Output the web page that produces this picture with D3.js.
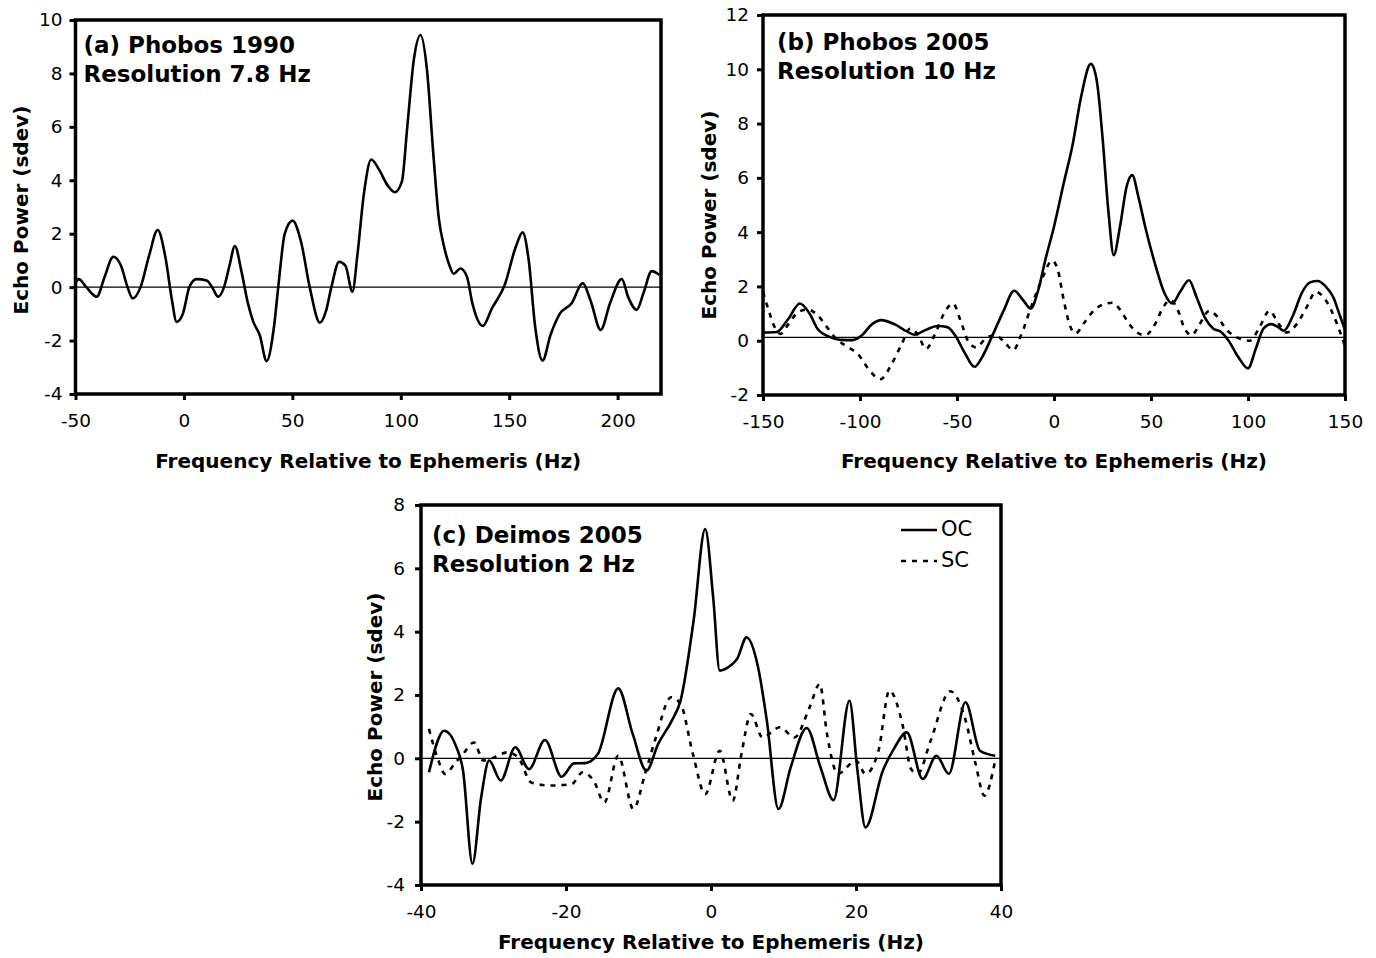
<!DOCTYPE html>
<html>
<head>
<meta charset="utf-8">
<script src="https://cdn.jsdelivr.net/npm/d3@7"></script>
<style>
  html, body { margin: 0; padding: 0; background: #fff; }
  svg { display: block; }
  text { font-family: "DejaVu Sans", Verdana, sans-serif; fill: #000; }
</style>
</head>
<body>
<svg id="chart" width="1376" height="958"></svg>
<script>
// ---------- DATA ----------
const xTicksA = [-50, 0, 50, 100, 150, 200];
const yTicksA = [-4, -2, 0, 2, 4, 6, 8, 10];
const xTicksB = [-150, -100, -50, 0, 50, 100, 150];
const yTicksB = [-2, 0, 2, 4, 6, 8, 10, 12];
const xTicksC = [-40, -20, 0, 20, 40];
const yTicksC = [-4, -2, 0, 2, 4, 6, 8];

// (a) Phobos 1990, OC  [frequency Hz, echo power sdev]
const phobos1990OC = [
  [-50,0.15],[-48.5,0.3],[-45.5,0.05],[-40.2,-0.36],[-36.5,0.4],[-32.6,1.14],[-29,0.8],[-26,0],
  [-23.6,-0.42],[-20,0],[-16,1.2],[-12.1,2.14],[-8.5,1.1],[-5.5,-0.5],[-3.4,-1.3],[-0.5,-1.0],
  [2.5,0],[5.8,0.3],[10.5,0.25],[13,0],[15.8,-0.36],[18.5,0],[21,0.8],[23.5,1.54],[26.5,0.6],
  [29.5,-0.6],[32,-1.3],[35,-1.8],[38.1,-2.77],[41.5,-1.5],[43.5,0],[46.5,2.0],[50.1,2.49],
  [54,1.7],[58,0],[62.7,-1.33],[65.5,-0.9],[68,0],[71.6,0.95],[74.5,0.8],[77.7,-0.17],[80,1.2],
  [83,3.5],[86.4,4.78],[90,4.4],[94,3.8],[97.2,3.55],[100.5,3.95],[103,6.0],[106,8.5],[109.1,9.44],
  [112,8.2],[115,5.0],[117.5,2.6],[120,1.5],[122.5,0.8],[124.4,0.5],[127.5,0.7],[130.5,0.4],
  [133,-0.6],[137.8,-1.45],[142,-0.8],[148,0.1],[153,1.5],[156.2,2.05],[159,1.0],[162,-1.5],
  [165.4,-2.75],[169,-1.8],[173.3,-1.0],[178.8,-0.6],[183.9,0.15],[187.5,-0.5],[192.2,-1.6],
  [196.5,-0.6],[201.9,0.3],[205,-0.4],[208.8,-0.85],[212,-0.2],[215.7,0.6],[219.4,0.45]
];

// (b) Phobos 2005
const phobos2005OC = [
  [-150,0.3],[-143,0.32],[-137,0.8],[-131,1.37],[-126,1.0],[-122,0.45],[-116,0.15],[-110,0.03],
  [-104,0.02],[-99,0.2],[-94,0.6],[-89,0.76],[-82,0.6],[-76,0.35],[-72,0.22],[-66,0.4],[-60,0.54],
  [-55,0.5],[-51,0.2],[-46,-0.45],[-41,-0.96],[-37,-0.6],[-32,0.15],[-26,1.1],[-20.5,1.84],
  [-16,1.5],[-12,1.19],[-8,1.9],[-4.5,2.97],[0,4.2],[5,5.8],[9.7,7.26],[14,9.0],[19,10.2],
  [22,9.6],[25,7.5],[28,4.8],[30.8,3.15],[34,4.2],[37.5,5.7],[40.3,6.1],[43.5,5.3],[47,4.2],
  [52,2.85],[57,1.74],[60.9,1.37],[65,1.8],[69.6,2.23],[73.5,1.6],[78,0.82],[82,0.45],[86,0.33],
  [90,0.0],[95,-0.6],[100,-1.02],[104,-0.3],[108,0.45],[112,0.61],[115.5,0.5],[118.5,0.37],
  [123,0.9],[128,1.8],[132,2.15],[136,2.2],[140,2.0],[144,1.6],[147,1.0],[150,0.4]
];
const phobos2005SC = [
  [-150,1.8],[-147,1.1],[-144,0.5],[-141,0.25],[-137,0.6],[-132,1.05],[-127,1.15],[-122,0.95],
  [-117,0.5],[-112,0.05],[-107,-0.2],[-101,-0.5],[-95,-1.1],[-89.5,-1.42],[-84,-0.9],[-79,-0.2],
  [-74,0.45],[-70,0.2],[-66,-0.3],[-61,0.3],[-56,1.1],[-52,1.37],[-48,0.7],[-44,-0.05],[-40,-0.25],
  [-35,0.1],[-30,0.2],[-25,-0.1],[-21,-0.35],[-17,0.2],[-12,1.2],[-6,2.3],[-1,2.95],[2,2.6],
  [5,1.5],[8,0.6],[11,0.27],[16,0.7],[21,1.15],[26,1.35],[30,1.4],[34,1.15],[38,0.7],[42,0.35],
  [47,0.2],[52,0.6],[56,1.2],[60,1.5],[64,1.1],[67,0.5],[71,0.2],[75,0.6],[80,1.1],[84,0.9],
  [89,0.4],[95,0.1],[101,0.0],[106,0.5],[111,1.1],[116,0.6],[120,0.3],[125,0.6],[130,1.2],
  [135,1.8],[140,1.5],[146,0.6],[150,-0.2]
];
const phobos2005Baseline = 0.12;

// (c) Deimos 2005
const deimos2005OC = [
  [-38.9,-0.44],[-36.8,0.87],[-35.2,0.4],[-34.2,-0.39],[-32.9,-3.33],[-31.7,-1.23],[-30.6,-0.07],
  [-29,-0.7],[-27,0.35],[-25.1,-0.34],[-22.9,0.58],[-20.6,-0.58],[-18.9,-0.16],[-17.4,-0.15],
  [-15.6,0.14],[-12.8,2.21],[-10.8,0.77],[-8.9,-0.39],[-7.3,0.45],[-5.4,1.19],[-4.2,1.82],
  [-2.4,4.35],[-0.8,7.24],[0.3,5.08],[1.2,2.77],[2.7,2.93],[3.6,3.14],[4.9,3.82],[6.5,2.87],
  [7.7,1.19],[9.3,-1.6],[11,-0.28],[13.2,0.96],[15.1,-0.28],[16.9,-1.32],[19.1,1.82],[20.2,-0.39],
  [21.3,-2.18],[23.7,-0.39],[25.2,0.29],[27,0.82],[29.2,-0.65],[31.1,0.08],[32.8,-0.49],
  [35.1,1.77],[37.1,0.24],[39.2,0.08]
];
const deimos2005SC = [
  [-38.9,0.93],[-37.6,-0.07],[-36.7,-0.49],[-35.2,-0.12],[-34.2,0.14],[-32.7,0.5],[-31.4,-0.07],
  [-29.9,0.03],[-28.1,0.19],[-26.6,0.03],[-24.8,-0.76],[-22.1,-0.86],[-19.2,-0.81],[-17.7,-0.44],
  [-16.2,-0.7],[-14.7,-1.39],[-12.8,0.08],[-10.7,-1.6],[-9.1,-0.49],[-7.6,0.66],[-5.5,1.93],
  [-4.2,1.72],[-2.5,0.14],[-0.8,-1.13],[1.2,0.24],[3.0,-1.34],[4.2,0.14],[5.5,1.4],[7.1,0.66],
  [9.5,0.98],[11.5,0.66],[13.6,1.61],[15,2.35],[16,0.77],[17.5,-0.49],[20,-0.07],[21.3,-0.49],
  [23.1,0.24],[24.6,2.14],[26.4,1.08],[27.6,-0.34],[28.5,-0.49],[30.3,0.56],[33,2.12],[35,1.29],
  [36.5,-0.18],[37.7,-1.18],[39.2,-0.07]
];

const titlesA = ["(a) Phobos 1990", "Resolution 7.8 Hz"];
const titlesB = ["(b) Phobos 2005", "Resolution 10 Hz"];
const titlesC = ["(c) Deimos 2005", "Resolution 2 Hz"];
const legendLabels = ["OC", "SC"];
const xTitle = "Frequency Relative to Ephemeris (Hz)";
const yTitle = "Echo Power (sdev)";

// ---------- DRAW ----------
const svg = d3.select("#chart");

function panel(cfg) {
  const g = svg.append("g");
  const x = d3.scaleLinear().domain(cfg.xDomain).range([cfg.left, cfg.right]);
  const y = d3.scaleLinear().domain(cfg.yDomain).range([cfg.bottom, cfg.top]);
  const line = d3.line().x(d => x(d[0])).y(d => y(d[1])).curve(d3.curveMonotoneX);

  // zero / baseline line
  g.append("line")
    .attr("x1", x(cfg.xDomain[0])).attr("x2", x(cfg.xDomain[1]))
    .attr("y1", y(cfg.baseline)).attr("y2", y(cfg.baseline))
    .attr("stroke", "#000").attr("stroke-width", 1.3);

  // series
  cfg.series.forEach(s => {
    g.append("path").datum(s.data)
      .attr("d", line)
      .attr("fill", "none")
      .attr("stroke", "#000")
      .attr("stroke-width", 2.6)
      .attr("stroke-linejoin", "round")
      .attr("stroke-dasharray", s.dash ? "5,6" : null);
  });

  // box
  g.append("rect")
    .attr("x", cfg.left).attr("y", cfg.top)
    .attr("width", cfg.right - cfg.left).attr("height", cfg.bottom - cfg.top)
    .attr("fill", "none").attr("stroke", "#000").attr("stroke-width", 3.5);

  // axes
  const fmt = d => String(d);
  const xAxis = d3.axisBottom(x).tickValues(cfg.xTicks).tickFormat(fmt)
    .tickSize(6).tickSizeOuter(0).tickPadding(14);
  const yAxis = d3.axisLeft(y).tickValues(cfg.yTicks).tickFormat(fmt)
    .tickSize(6).tickSizeOuter(0).tickPadding(cfg.yPad);
  const gx = g.append("g").attr("transform", `translate(0,${cfg.bottom})`).call(xAxis);
  const gy = g.append("g").attr("transform", `translate(${cfg.left},0)`).call(yAxis);
  [gx, gy].forEach(ax => {
    ax.select(".domain").remove();
    ax.selectAll(".tick line").attr("stroke", "#000").attr("stroke-width", 3);
    ax.selectAll(".tick text")
      .attr("font-family", cfg.tickFont)
      .attr("font-size", cfg.tickSize)
      .attr("fill", "#000");
  });

  // in-plot titles
  cfg.titles.forEach((t, i) => {
    g.append("text")
      .attr("x", cfg.left + cfg.titleDx)
      .attr("y", cfg.top + cfg.titleDy + i * 29)
      .attr("font-weight", "bold")
      .attr("font-family", cfg.titleFont)
      .attr("font-size", cfg.titleSize)
      .text(t);
  });

  // axis titles
  g.append("text")
    .attr("x", (cfg.left + cfg.right) / 2)
    .attr("y", cfg.xTitleY)
    .attr("text-anchor", "middle")
    .attr("dominant-baseline", "middle")
    .attr("font-weight", "bold")
    .attr("font-size", 20)
    .text(xTitle);
  g.append("text")
    .attr("transform", `translate(${cfg.yTitleX},${cfg.yTitleCY}) rotate(-90)`)
    .attr("text-anchor", "middle")
    .attr("dominant-baseline", "middle")
    .attr("font-weight", "bold")
    .attr("font-size", 20)
    .text(yTitle);

  return { g, x, y };
}

panel({
  left: 75.5, right: 661, top: 20, bottom: 394,
  xDomain: [-50, 220], yDomain: [-4, 10],
  xTicks: xTicksA, yTicks: yTicksA, baseline: 0, yPad: 7,
  series: [{ data: phobos1990OC, dash: false }],
  titles: titlesA, titleDx: 8, titleDy: 33, titleSize: 23,
  titleFont: "DejaVu Sans", tickFont: "DejaVu Sans", tickSize: 18.5,
  xTitleY: 462, yTitleX: 22, yTitleCY: 210
});

panel({
  left: 763, right: 1345, top: 15, bottom: 395,
  xDomain: [-150, 150], yDomain: [-2, 12],
  xTicks: xTicksB, yTicks: yTicksB, baseline: phobos2005Baseline, yPad: 8,
  series: [{ data: phobos2005OC, dash: false }, { data: phobos2005SC, dash: true }],
  titles: titlesB, titleDx: 14, titleDy: 35, titleSize: 23,
  titleFont: "DejaVu Sans", tickFont: "DejaVu Sans", tickSize: 18.5,
  xTitleY: 462, yTitleX: 710, yTitleCY: 215
});

const pc = panel({
  left: 421, right: 1001, top: 505, bottom: 885,
  xDomain: [-40, 40], yDomain: [-4, 8],
  xTicks: xTicksC, yTicks: yTicksC, baseline: 0, yPad: 10,
  series: [{ data: deimos2005OC, dash: false }, { data: deimos2005SC, dash: true }],
  titles: titlesC, titleDx: 11, titleDy: 38, titleSize: 23,
  titleFont: "DejaVu Sans", tickFont: "DejaVu Sans", tickSize: 18.5,
  xTitleY: 943, yTitleX: 376, yTitleCY: 697
});

// legend in panel (c)
const legend = pc.g.append("g");
legendLabels.forEach((lab, i) => {
  const ly = 530 + i * 31;
  legend.append("line")
    .attr("x1", 901).attr("x2", 937).attr("y1", ly).attr("y2", ly)
    .attr("stroke", "#000").attr("stroke-width", 2.6)
    .attr("stroke-dasharray", i === 1 ? "5,6" : null);
  legend.append("text")
    .attr("x", 941).attr("y", ly)
    .attr("dominant-baseline", "middle")
    .attr("font-size", 21)
    .text(lab);
});
</script>
</body>
</html>
